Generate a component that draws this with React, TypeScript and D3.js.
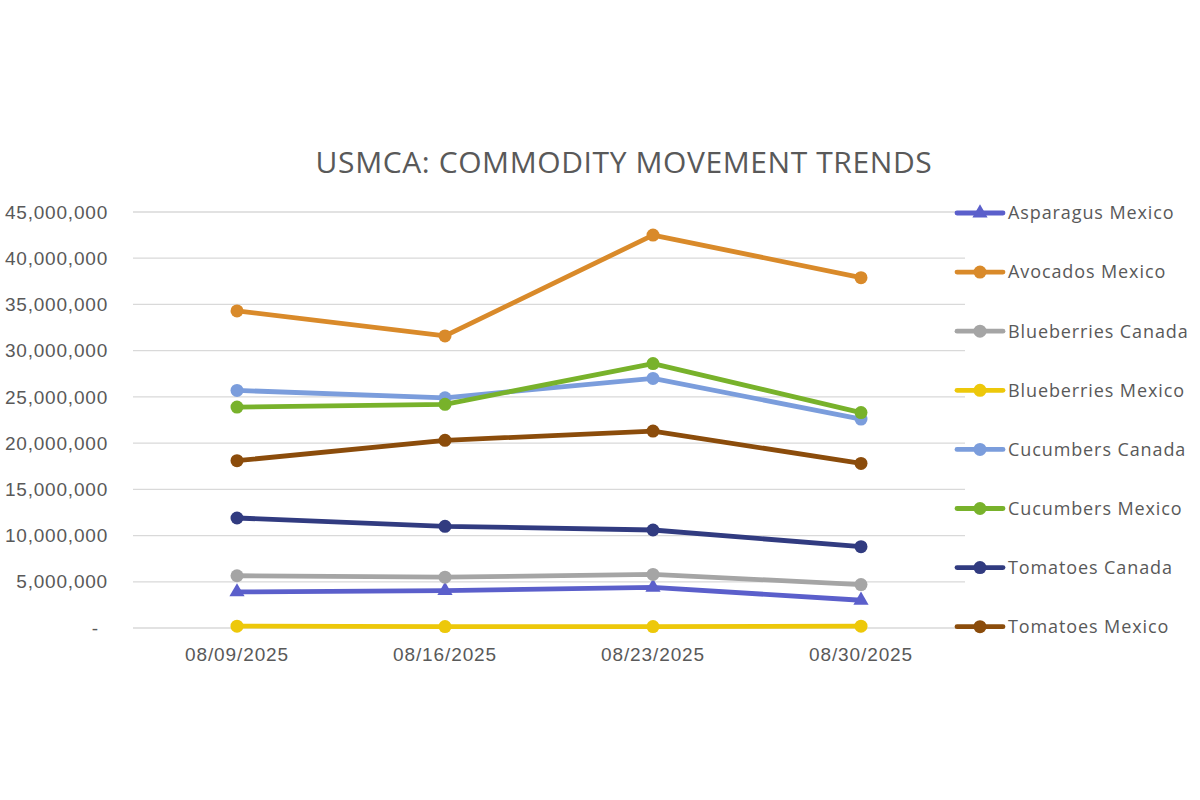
import React from 'react';
import * as d3 from 'd3';

const weeks = ['08/09/2025', '08/16/2025', '08/23/2025', '08/30/2025'];
const yTicks = [0, 5e6, 10e6, 15e6, 20e6, 25e6, 30e6, 35e6, 40e6, 45e6];

const seriesNames = [
  'Asparagus Mexico',
  'Avocados Mexico',
  'Blueberries Canada',
  'Blueberries Mexico',
  'Cucumbers Canada',
  'Cucumbers Mexico',
  'Tomatoes Canada',
  'Tomatoes Mexico',
];

const asparagusMexico = [3.9e6, 4.05e6, 4.4e6, 3.0e6];
const avocadosMexico = [34.3e6, 31.6e6, 42.5e6, 37.9e6];
const blueberriesCanada = [5.65e6, 5.5e6, 5.8e6, 4.7e6];
const blueberriesMexico = [0.2e6, 0.15e6, 0.15e6, 0.2e6];
const cucumbersCanada = [25.7e6, 24.9e6, 27.0e6, 22.6e6];
const cucumbersMexico = [23.9e6, 24.2e6, 28.6e6, 23.3e6];
const tomatoesCanada = [11.9e6, 11.0e6, 10.6e6, 8.8e6];
const tomatoesMexico = [18.1e6, 20.3e6, 21.3e6, 17.8e6];

const seriesValues = [
  asparagusMexico,
  avocadosMexico,
  blueberriesCanada,
  blueberriesMexico,
  cucumbersCanada,
  cucumbersMexico,
  tomatoesCanada,
  tomatoesMexico,
];

const colors = [
  '#5B5FCB',
  '#D98A2A',
  '#A5A5A5',
  '#EDC80A',
  '#7B9DDC',
  '#78B22B',
  '#313B80',
  '#8B4C0B',
];

const axisFont = '"Liberation Sans", Arial, sans-serif';
const textFont = '"Open Sans", "Liberation Sans", sans-serif';
const textColor = '#595959';

function Marker({ x, y, color, triangle }: { x: number; y: number; color: string; triangle: boolean }) {
  if (triangle) {
    const sym = d3.symbol().type(d3.symbolTriangle).size(100)();
    return <path d={sym || ''} transform={`translate(${x},${y})`} fill={color} />;
  }
  return <circle cx={x} cy={y} r={6.5} fill={color} />;
}

export default function App() {
  const width = 1200;
  const height = 800;

  const x = d3.scaleBand<string>().domain(weeks).range([133, 965]).padding(0);
  const y = d3.scaleLinear().domain([0, 45e6]).range([628, 212]);
  const cx = (w: string) => (x(w) ?? 0) + x.bandwidth() / 2;
  const fmt = d3.format(',');

  const line = d3
    .line<number>()
    .x((_, i) => cx(weeks[i]))
    .y((d) => y(d));

  const legendTop = 213;
  const legendStep = 59.1;

  return (
    <svg width={width} height={height} style={{ position: 'absolute', left: 0, top: 0, background: '#fff' }}>
      <rect width={width} height={height} fill="#fff" />

      <text
        x={624}
        y={173}
        textAnchor="middle"
        fontFamily={textFont}
        fontSize={30}
        letterSpacing={0.6}
        fill={textColor}
      >
        USMCA: COMMODITY MOVEMENT TRENDS
      </text>

      {/* gridlines and y labels */}
      {yTicks.map((t) => (
        <g key={t}>
          <line x1={133} x2={965} y1={y(t)} y2={y(t)} stroke="#D9D9D9" strokeWidth={1.3} />
          <text
            x={t === 0 ? 99 : 108}
            y={y(t)}
            dy="0.35em"
            textAnchor="end"
            fontFamily={axisFont}
            fontSize={19}
            letterSpacing={0.8}
            fill={textColor}
          >
            {t === 0 ? '-' : fmt(t)}
          </text>
        </g>
      ))}

      {/* x labels */}
      {weeks.map((w) => (
        <text
          key={w}
          x={cx(w)}
          y={661}
          textAnchor="middle"
          fontFamily={axisFont}
          fontSize={19}
          letterSpacing={0.9}
          fill={textColor}
        >
          {w}
        </text>
      ))}

      {/* series lines */}
      {seriesValues.map((vals, s) => (
        <g key={seriesNames[s]}>
          <path
            d={line(vals) || ''}
            fill="none"
            stroke={colors[s]}
            strokeWidth={4.8}
            strokeLinejoin="round"
            strokeLinecap="round"
          />
          {vals.map((v, i) => (
            <Marker key={i} x={cx(weeks[i])} y={y(v)} color={colors[s]} triangle={s === 0} />
          ))}
        </g>
      ))}

      {/* legend */}
      {seriesNames.map((name, s) => {
        const ly = legendTop + s * legendStep;
        return (
          <g key={name}>
            <line x1={957} x2={1003} y1={ly} y2={ly} stroke={colors[s]} strokeWidth={4.8} strokeLinecap="round" />
            <Marker x={980} y={ly} color={colors[s]} triangle={s === 0} />
            <text
              x={1008}
              y={ly}
              dy="0.35em"
              fontFamily={textFont}
              fontSize={18}
              letterSpacing={0.9}
              fill={textColor}
            >
              {name}
            </text>
          </g>
        );
      })}
    </svg>
  );
}
